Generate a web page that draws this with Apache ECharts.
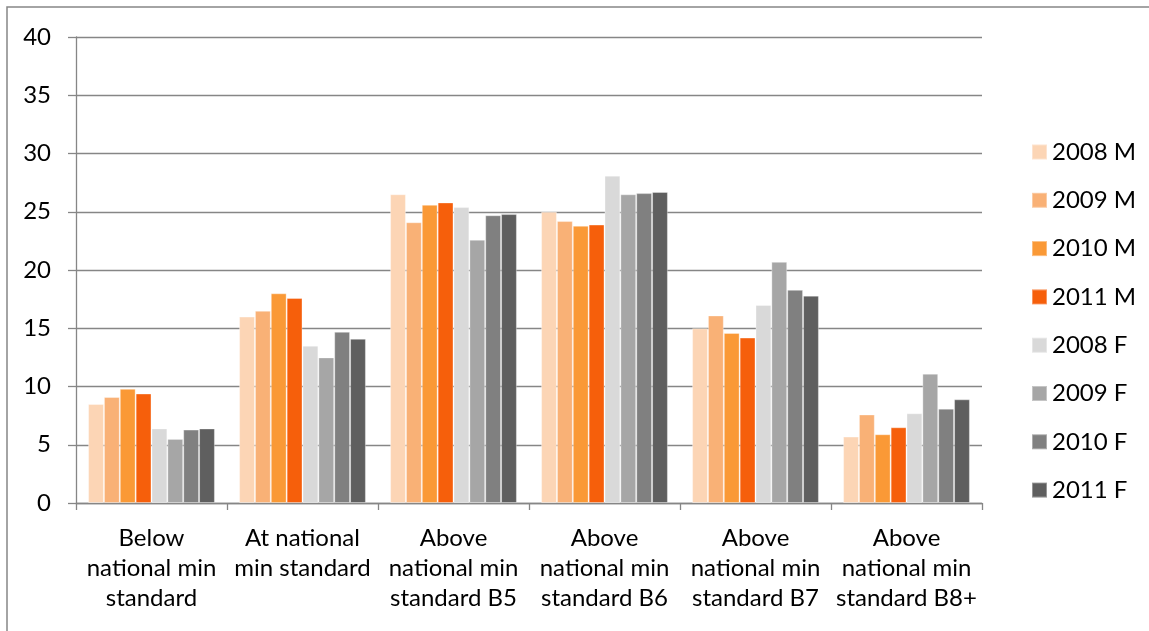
<!DOCTYPE html>
<html>
<head>
<meta charset="utf-8">
<script src="https://cdn.jsdelivr.net/npm/echarts@6/dist/echarts.min.js"></script>
<style>
  html, body { margin: 0; padding: 0; background: #fff; }
  #chart { width: 1149px; height: 631px; }
</style>
</head>
<body>
<div id="chart"></div>
<script>
// Attainment bands along the x axis
const categories = [
  'Below\nnational min\nstandard',
  'At national\nmin standard',
  'Above\nnational min\nstandard B5',
  'Above\nnational min\nstandard B6',
  'Above\nnational min\nstandard B7',
  'Above\nnational min\nstandard B8+'
];

// Percentages per year, male (M) and female (F)
const m2008 = [8.5, 16.0, 26.5, 25.0, 15.0, 5.7];
const m2009 = [9.1, 16.5, 24.1, 24.2, 16.1, 7.6];
const m2010 = [9.8, 18.0, 25.6, 23.8, 14.6, 5.9];
const m2011 = [9.4, 17.6, 25.8, 23.9, 14.2, 6.5];
const f2008 = [6.4, 13.5, 25.4, 28.1, 17.0, 7.7];
const f2009 = [5.5, 12.5, 22.6, 26.5, 20.7, 11.1];
const f2010 = [6.3, 14.7, 24.7, 26.6, 18.3, 8.1];
const f2011 = [6.4, 14.1, 24.8, 26.7, 17.8, 8.9];

const seriesNames = ['2008 M', '2009 M', '2010 M', '2011 M', '2008 F', '2009 F', '2010 F', '2011 F'];
const seriesData = [m2008, m2009, m2010, m2011, f2008, f2009, f2010, f2011];
const seriesColors = ['#FCD5B5', '#F9B176', '#FA9936', '#F65F0B', '#D9D9D9', '#A6A6A6', '#808080', '#5F5F5F'];

const FONT = 'Lato, "Liberation Sans", sans-serif';
const AXIS_GRAY = '#868686';

const chart = echarts.init(document.getElementById('chart'), null, { renderer: 'canvas' });

chart.setOption({
  animation: false,
  backgroundColor: '#ffffff',
  textStyle: { fontFamily: FONT, color: '#000' },
  graphic: [{
    type: 'rect',
    shape: { x: 7, y: 7, width: 1300, height: 800 },
    style: { fill: 'none', stroke: AXIS_GRAY, lineWidth: 1.5 },
    silent: true,
    z: 0
  }],
  grid: { left: 76, top: 37, width: 906, height: 466 },
  legend: {
    orient: 'vertical',
    left: 1026,
    top: 134,
    itemWidth: 15,
    itemHeight: 15,
    itemGap: 22.3,
    icon: 'rect',
    textStyle: { fontFamily: FONT, fontSize: 24, color: '#000', lineHeight: 26, padding: [0, 0, 0, 0] },
    data: seriesNames
  },
  xAxis: {
    type: 'category',
    data: categories,
    axisLine: { lineStyle: { color: AXIS_GRAY, width: 1.3 } },
    axisTick: { show: true, length: 7, lineStyle: { color: AXIS_GRAY, width: 1.3 } },
    axisLabel: {
      interval: 0,
      margin: 20,
      fontFamily: FONT,
      fontSize: 24,
      lineHeight: 30,
      color: '#000',
      align: 'center'
    }
  },
  yAxis: {
    type: 'value',
    min: 0,
    max: 40,
    interval: 5,
    axisLine: { show: true, lineStyle: { color: AXIS_GRAY, width: 1.3 } },
    axisTick: { show: true, length: 8, lineStyle: { color: AXIS_GRAY, width: 1.3 } },
    splitLine: { lineStyle: { color: AXIS_GRAY, width: 1.3 } },
    axisLabel: { margin: 25, fontFamily: FONT, fontSize: 24, color: '#000' }
  },
  series: seriesNames.map((name, i) => ({
    name: name,
    type: 'bar',
    data: seriesData[i],
    barGap: '0%',
    barCategoryGap: '16%',
    itemStyle: {
      color: seriesColors[i],
      borderColor: 'rgba(255,255,255,0.35)',
      borderWidth: 1
    }
  }))
});
</script>
</body>
</html>
